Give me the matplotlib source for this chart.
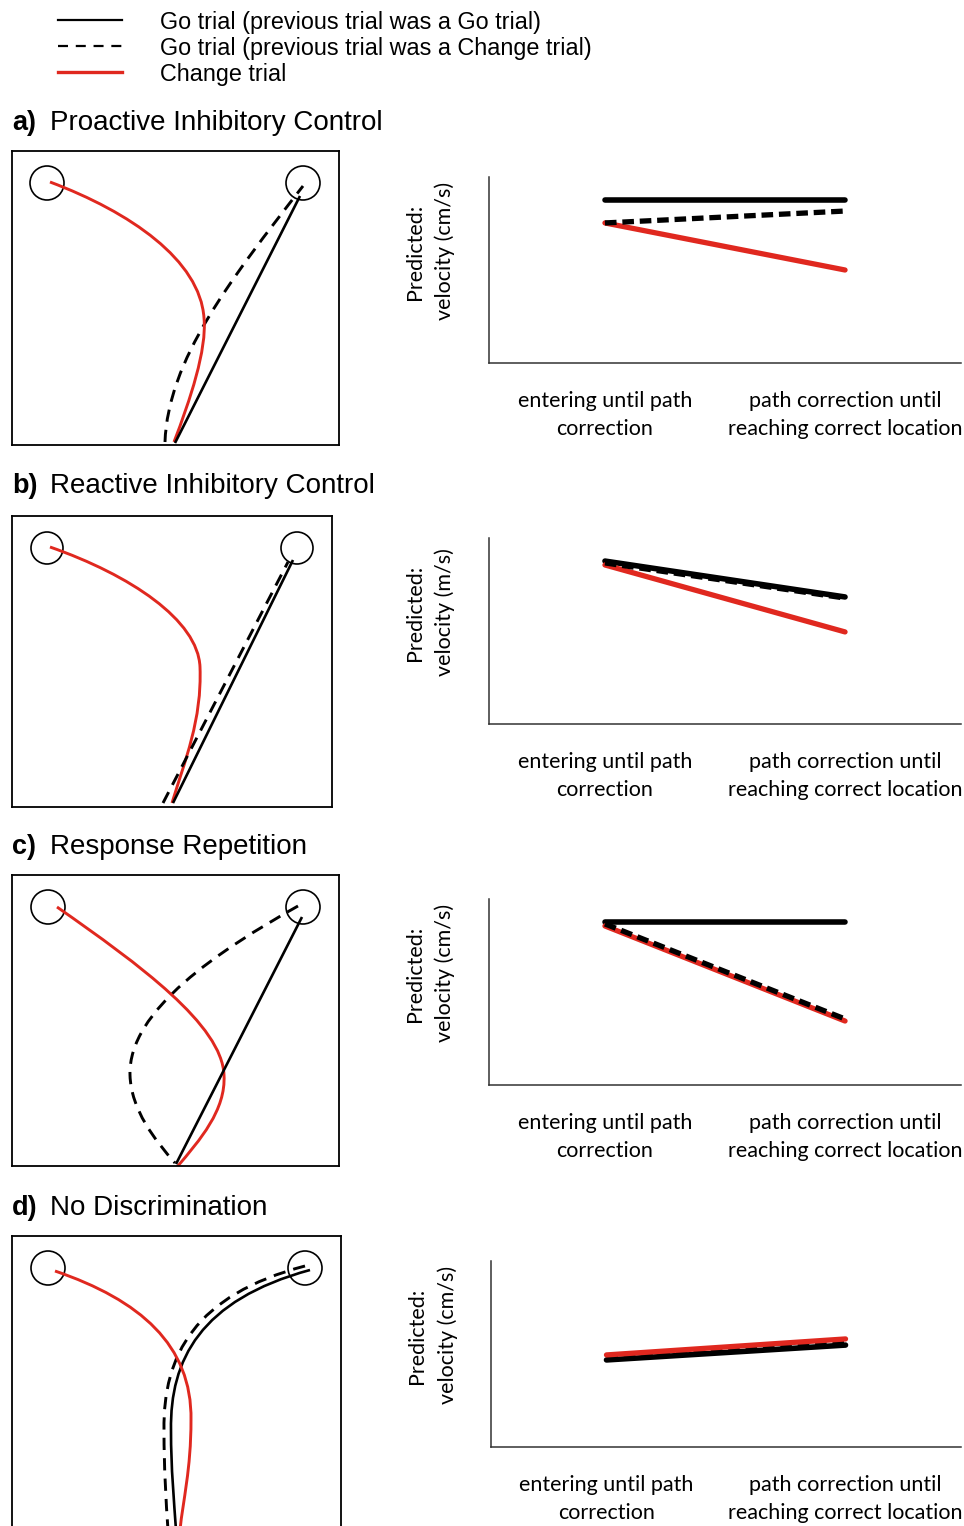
import matplotlib
matplotlib.use('Agg')
import matplotlib.pyplot as plt
from matplotlib.path import Path
from matplotlib.patches import PathPatch, Circle

W, H = 964, 1526
RED = '#e0281f'

# legend / titles / labels
legend_labels = ['Go trial (previous trial was a Go trial)',
                 'Go trial (previous trial was a Change trial)',
                 'Change trial']
panel_letters = ['a)', 'b)', 'c)', 'd)']
panel_titles = ['Proactive Inhibitory Control', 'Reactive Inhibitory Control',
                'Response Repetition', 'No Discrimination']
phase_labels = ['entering until path\ncorrection',
                'path correction until\nreaching correct location']
y_labels = ['Predicted:\nvelocity (cm/s)', 'Predicted:\nvelocity (m/s)',
            'Predicted:\nvelocity (cm/s)', 'Predicted:\nvelocity (cm/s)']
phase_x = [1, 2]

# predicted velocity (arbitrary units, 0-10) per panel: [phase1, phase2]
vel_go_go = [[8.76, 8.76], [8.76, 6.83], [8.76, 8.76], [4.68, 5.48]]
vel_go_change = [[7.53, 8.17], [8.66, 6.77], [8.66, 3.55], [4.84, 5.70]]
vel_change = [[7.53, 5.00], [8.55, 4.95], [8.55, 3.44], [4.95, 5.81]]

# trajectory boxes: targets (x, y, r) in box pixels, y down
targets_a = [(35, 32, 17), (291, 32, 17)]
targets_b = [(35, 32, 16), (285, 32, 16)]
targets_c = [(36, 32, 17), (291, 32, 17)]
targets_d = [(36, 32, 17), (293, 32, 17)]

# bezier control points (start, c1, c2, end, c1, c2, end)
traj_a_change = [(38, 31), (118, 61), (188, 109), (192, 167), (195, 199), (178, 249), (162, 291)]
traj_a_gogo = [(163, 292), (288, 45)]
traj_a_gochange = [(153, 291), (156, 209), (218, 129), (291, 35)]

traj_b_change = [(38, 31), (118, 59), (186, 104), (188, 151), (190, 204), (173, 244), (160, 287)]
traj_b_gogo = [(161, 287), (281, 44)]
traj_b_gochange = [(151, 287), (276, 46)]

traj_c_change = [(45, 32), (128, 90), (210, 150), (212, 200), (214, 235), (188, 265), (165, 292)]
traj_c_gogo = [(164, 289), (290, 42)]
traj_c_gochange = [(286, 31), (208, 75), (116, 135), (118, 200), (119, 235), (143, 265), (163, 288)]

traj_d_change = [(43, 35), (128, 64), (180, 109), (179, 184), (179, 234), (171, 264), (168, 294)]
traj_d_gogo = [(298, 34), (188, 64), (158, 124), (159, 194), (159, 234), (162, 264), (164, 294)]
traj_d_gochange = [(293, 30), (183, 59), (151, 119), (152, 194), (152, 234), (154, 264), (156, 294)]

boxes = [
    (12, 151, 339, 445, targets_a, traj_a_change, traj_a_gogo, traj_a_gochange),
    (12, 516, 332, 807, targets_b, traj_b_change, traj_b_gogo, traj_b_gochange),
    (12, 875, 339, 1166, targets_c, traj_c_change, traj_c_gogo, traj_c_gochange),
    (12, 1236, 341, 1545, targets_d, traj_d_change, traj_d_gogo, traj_d_gochange),
]
charts = [(489, 177, 961, 363), (489, 538, 961, 724),
          (489, 899, 961, 1085), (491, 1261, 961, 1447)]
title_y = [121, 484, 845, 1206]

fig = plt.figure(figsize=(W / 100, H / 100), dpi=100)


def px_axes(x0, y0, x1, y1):
    return fig.add_axes([x0 / W, 1 - y1 / H, (x1 - x0) / W, (y1 - y0) / H])


def draw_traj(ax, pts, **kw):
    if len(pts) == 2:
        ax.plot([p[0] for p in pts], [p[1] for p in pts], solid_capstyle='butt', **kw)
        return
    codes = [Path.MOVETO] + [Path.CURVE4] * (len(pts) - 1)
    ax.add_patch(PathPatch(Path(pts, codes), fill=False, capstyle='butt', **kw))


# overlay for legend and titles
ov = fig.add_axes([0, 0, 1, 1])
ov.set_xlim(0, W)
ov.set_ylim(H, 0)
ov.axis('off')
leg_styles = [dict(color='black', lw=1.6),
              dict(color='black', lw=1.6, dashes=(4.5, 3.5)),
              dict(color=RED, lw=2.4)]
for i, (lab, st) in enumerate(zip(legend_labels, leg_styles)):
    y = 20 + 26 * i
    ov.plot([58, 122], [y, y], **st)
    ov.text(160, y + 2, lab, fontsize=16.8, family='Liberation Sans', va='center', ha='left')
for letter, title, y in zip(panel_letters, panel_titles, title_y):
    ov.text(12, y + 2, letter, fontsize=19.5, family='Liberation Sans', weight='bold', va='center')
    ov.text(50, y + 2, title, fontsize=20, family='Liberation Sans', va='center')

# trajectory boxes
for x0, y0, x1, y1, tg, tr_change, tr_gogo, tr_gochange in boxes:
    ax = px_axes(x0, y0, x1, y1)
    ax.set_xlim(0, x1 - x0)
    ax.set_ylim(y1 - y0, 0)
    ax.set_xticks([])
    ax.set_yticks([])
    for s in ax.spines.values():
        s.set_linewidth(1.3)
    for cx, cy, r in tg:
        ax.add_patch(Circle((cx, cy), r, fill=False, lw=1.2, color='black'))
    draw_traj(ax, tr_gochange, color='black', lw=2.1, linestyle=(0, (4.2, 2.8)))
    draw_traj(ax, tr_gogo, color='black', lw=1.9)
    draw_traj(ax, tr_change, color=RED, lw=2.1)

# velocity charts
for i, (x0, y0, x1, y1) in enumerate(charts):
    ax = px_axes(x0, y0, x1, y1)
    ax.set_xlim(0.517, 2.483)
    ax.set_ylim(0, 10)
    ax.plot(phase_x, vel_go_go[i], color='black', lw=4, solid_capstyle='round', zorder=2)
    ax.plot(phase_x, vel_change[i], color=RED, lw=3.8, solid_capstyle='round', zorder=3)
    ax.plot(phase_x, vel_go_change[i], color='black', lw=3.8, dashes=(2.2, 1.1),
            dash_capstyle='butt', zorder=4 if i != 3 else 2.5)
    for side in ['top', 'right']:
        ax.spines[side].set_visible(False)
    for side in ['left', 'bottom']:
        ax.spines[side].set_linewidth(1.1)
        ax.spines[side].set_color('#333333')
    ax.set_yticks([])
    ax.set_xticks(phase_x)
    ax.set_xticklabels(phase_labels, fontsize=15.5, family='Lato', linespacing=1.52)
    ax.tick_params(axis='x', length=0, pad=20)
    for lab in ax.get_xticklabels()[1:]:
        lab.set_x(1.99)
    ax.text(-0.125, 0.6, y_labels[i], transform=ax.transAxes, rotation=90,
            ha='center', va='center', fontsize=15.5, family='Lato', linespacing=1.62)

fig.savefig('out.png', dpi=100)
